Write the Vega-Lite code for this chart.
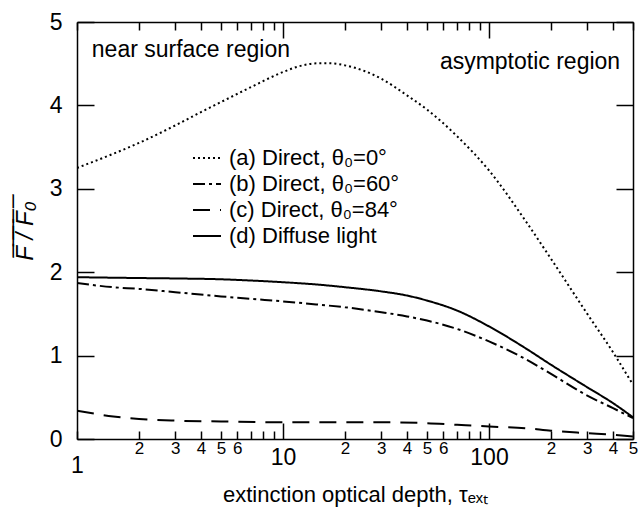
{
  "$schema": "https://vega.github.io/schema/vega-lite/v6.json",
  "width": 556,
  "height": 417,
  "autosize": {"type": "none"},
  "padding": {"left": 77, "top": 22, "right": 5, "bottom": 76},
  "background": "white",
  "config": {
    "view": {"stroke": null},
    "font": "Liberation Sans",
    "axis": {"grid": false, "domainColor": "black", "domainWidth": 1.5, "tickColor": "black", "tickWidth": 1.5, "labelColor": "black", "titleColor": "black", "titleFontWeight": "normal", "labelOverlap": false, "labelFlush": false, "labelBound": false}
  },
  "datasets": {
    "curves": [
      {"tau": 1, "flux": 3.25, "series": "(a) Direct, θ₀=0°"},
      {"tau": 1.5, "flux": 3.42, "series": "(a) Direct, θ₀=0°"},
      {"tau": 2, "flux": 3.55, "series": "(a) Direct, θ₀=0°"},
      {"tau": 3, "flux": 3.76, "series": "(a) Direct, θ₀=0°"},
      {"tau": 4, "flux": 3.92, "series": "(a) Direct, θ₀=0°"},
      {"tau": 5, "flux": 4.04, "series": "(a) Direct, θ₀=0°"},
      {"tau": 7, "flux": 4.22, "series": "(a) Direct, θ₀=0°"},
      {"tau": 10, "flux": 4.40, "series": "(a) Direct, θ₀=0°"},
      {"tau": 12, "flux": 4.47, "series": "(a) Direct, θ₀=0°"},
      {"tau": 15, "flux": 4.505, "series": "(a) Direct, θ₀=0°"},
      {"tau": 17, "flux": 4.505, "series": "(a) Direct, θ₀=0°"},
      {"tau": 20, "flux": 4.48, "series": "(a) Direct, θ₀=0°"},
      {"tau": 25, "flux": 4.41, "series": "(a) Direct, θ₀=0°"},
      {"tau": 30, "flux": 4.32, "series": "(a) Direct, θ₀=0°"},
      {"tau": 40, "flux": 4.12, "series": "(a) Direct, θ₀=0°"},
      {"tau": 50, "flux": 3.95, "series": "(a) Direct, θ₀=0°"},
      {"tau": 70, "flux": 3.63, "series": "(a) Direct, θ₀=0°"},
      {"tau": 100, "flux": 3.22, "series": "(a) Direct, θ₀=0°"},
      {"tau": 150, "flux": 2.62, "series": "(a) Direct, θ₀=0°"},
      {"tau": 200, "flux": 2.16, "series": "(a) Direct, θ₀=0°"},
      {"tau": 300, "flux": 1.5, "series": "(a) Direct, θ₀=0°"},
      {"tau": 400, "flux": 1.04, "series": "(a) Direct, θ₀=0°"},
      {"tau": 500, "flux": 0.65, "series": "(a) Direct, θ₀=0°"},

      {"tau": 1, "flux": 1.87, "series": "(b) Direct, θ₀=60°"},
      {"tau": 1.5, "flux": 1.82, "series": "(b) Direct, θ₀=60°"},
      {"tau": 2, "flux": 1.80, "series": "(b) Direct, θ₀=60°"},
      {"tau": 3, "flux": 1.76, "series": "(b) Direct, θ₀=60°"},
      {"tau": 5, "flux": 1.71, "series": "(b) Direct, θ₀=60°"},
      {"tau": 7, "flux": 1.68, "series": "(b) Direct, θ₀=60°"},
      {"tau": 10, "flux": 1.65, "series": "(b) Direct, θ₀=60°"},
      {"tau": 15, "flux": 1.61, "series": "(b) Direct, θ₀=60°"},
      {"tau": 20, "flux": 1.58, "series": "(b) Direct, θ₀=60°"},
      {"tau": 30, "flux": 1.52, "series": "(b) Direct, θ₀=60°"},
      {"tau": 40, "flux": 1.47, "series": "(b) Direct, θ₀=60°"},
      {"tau": 50, "flux": 1.42, "series": "(b) Direct, θ₀=60°"},
      {"tau": 70, "flux": 1.32, "series": "(b) Direct, θ₀=60°"},
      {"tau": 100, "flux": 1.17, "series": "(b) Direct, θ₀=60°"},
      {"tau": 150, "flux": 0.96, "series": "(b) Direct, θ₀=60°"},
      {"tau": 200, "flux": 0.78, "series": "(b) Direct, θ₀=60°"},
      {"tau": 300, "flux": 0.52, "series": "(b) Direct, θ₀=60°"},
      {"tau": 400, "flux": 0.37, "series": "(b) Direct, θ₀=60°"},
      {"tau": 500, "flux": 0.25, "series": "(b) Direct, θ₀=60°"},

      {"tau": 1, "flux": 0.34, "series": "(c) Direct, θ₀=84°"},
      {"tau": 1.5, "flux": 0.27, "series": "(c) Direct, θ₀=84°"},
      {"tau": 2, "flux": 0.24, "series": "(c) Direct, θ₀=84°"},
      {"tau": 3, "flux": 0.22, "series": "(c) Direct, θ₀=84°"},
      {"tau": 5, "flux": 0.21, "series": "(c) Direct, θ₀=84°"},
      {"tau": 10, "flux": 0.2, "series": "(c) Direct, θ₀=84°"},
      {"tau": 20, "flux": 0.2, "series": "(c) Direct, θ₀=84°"},
      {"tau": 30, "flux": 0.2, "series": "(c) Direct, θ₀=84°"},
      {"tau": 50, "flux": 0.19, "series": "(c) Direct, θ₀=84°"},
      {"tau": 70, "flux": 0.17, "series": "(c) Direct, θ₀=84°"},
      {"tau": 100, "flux": 0.15, "series": "(c) Direct, θ₀=84°"},
      {"tau": 150, "flux": 0.13, "series": "(c) Direct, θ₀=84°"},
      {"tau": 200, "flux": 0.1, "series": "(c) Direct, θ₀=84°"},
      {"tau": 300, "flux": 0.07, "series": "(c) Direct, θ₀=84°"},
      {"tau": 400, "flux": 0.05, "series": "(c) Direct, θ₀=84°"},
      {"tau": 500, "flux": 0.03, "series": "(c) Direct, θ₀=84°"},

      {"tau": 1, "flux": 1.94, "series": "(d) Diffuse light"},
      {"tau": 2, "flux": 1.93, "series": "(d) Diffuse light"},
      {"tau": 3, "flux": 1.925, "series": "(d) Diffuse light"},
      {"tau": 5, "flux": 1.915, "series": "(d) Diffuse light"},
      {"tau": 7, "flux": 1.90, "series": "(d) Diffuse light"},
      {"tau": 10, "flux": 1.88, "series": "(d) Diffuse light"},
      {"tau": 15, "flux": 1.85, "series": "(d) Diffuse light"},
      {"tau": 20, "flux": 1.82, "series": "(d) Diffuse light"},
      {"tau": 30, "flux": 1.77, "series": "(d) Diffuse light"},
      {"tau": 40, "flux": 1.72, "series": "(d) Diffuse light"},
      {"tau": 50, "flux": 1.66, "series": "(d) Diffuse light"},
      {"tau": 70, "flux": 1.54, "series": "(d) Diffuse light"},
      {"tau": 100, "flux": 1.35, "series": "(d) Diffuse light"},
      {"tau": 150, "flux": 1.09, "series": "(d) Diffuse light"},
      {"tau": 200, "flux": 0.89, "series": "(d) Diffuse light"},
      {"tau": 300, "flux": 0.62, "series": "(d) Diffuse light"},
      {"tau": 400, "flux": 0.43, "series": "(d) Diffuse light"},
      {"tau": 500, "flux": 0.26, "series": "(d) Diffuse light"}
    ],
    "notesLeft": [{"tau": 1.18, "flux": 4.66, "label": "near surface region"}],
    "notesRight": [{"tau": 433, "flux": 4.52, "label": "asymptotic region"}]
  },
  "layer": [
    {
      "data": {"name": "curves"},
      "mark": {"type": "line", "color": "black", "strokeWidth": 2, "strokeCap": "butt", "interpolate": "monotone", "clip": true},
      "encoding": {
        "x": {
          "field": "tau", "type": "quantitative",
          "scale": {"type": "log", "domain": [1, 500], "nice": false},
          "axis": {
            "orient": "bottom",
            "values": [1, 2, 3, 4, 5, 6, 7, 8, 9, 10, 20, 30, 40, 50, 60, 70, 80, 90, 100, 200, 300, 400, 500],
            "format": "d",
            "labelExpr": "(datum.value == 1 || datum.value == 10 || datum.value == 100) ? datum.label : (indexof([2,3,4,5,6,20,30,40,50,60,200,300,400,500], datum.value) >= 0 ? substring(datum.label, 0, 1) : '')",
            "labelFontSize": {"condition": {"test": "datum.value == 1 || datum.value == 10 || datum.value == 100", "value": 23}, "value": 17},
            "tickSize": {"condition": {"test": "datum.value == 10 || datum.value == 100", "value": -16}, "value": -8},
            "labelPadding": {"condition": {"test": "datum.value == 1 || datum.value == 10 || datum.value == 100", "value": 23}, "value": 9},
            "title": "extinction optical depth, τₑₓₜ",
            "titleFontSize": 22,
            "titlePadding": 7
          }
        },
        "y": {
          "field": "flux", "type": "quantitative",
          "scale": {"domain": [0, 5], "nice": false},
          "axis": {
            "orient": "left",
            "values": [0, 1, 2, 3, 4, 5],
            "tickSize": -17,
            "labelPadding": 32,
            "labelFontSize": 23,
            "title": "F̅ ̅/̅ ̅F̅₀̅",
            "titleFontSize": 24,
            "titleFontStyle": "italic",
            "titlePadding": 12
          }
        },
        "strokeDash": {
          "field": "series", "type": "nominal",
          "scale": {"range": [[2, 3], [12, 4, 3, 4], [17, 10], [1, 0]]},
          "legend": {
            "orient": "none", "legendX": 115, "legendY": 121,
            "title": null, "padding": 0,
            "labelFontSize": 22, "labelColor": "black", "labelLimit": 400,
            "symbolType": "stroke", "symbolSize": 784, "symbolStrokeWidth": 2, "symbolStrokeColor": "black",
            "labelOffset": 7, "rowPadding": -3.5
          }
        }
      }
    },
    {
      "data": {"name": "notesLeft"},
      "mark": {"type": "text", "align": "left", "baseline": "middle", "fontSize": 23, "color": "black"},
      "encoding": {
        "x": {
          "field": "tau", "type": "quantitative",
          "axis": {
            "orient": "top",
            "values": [1, 2, 3, 4, 5, 6, 7, 8, 9, 10, 20, 30, 40, 50, 60, 70, 80, 90, 100, 200, 300, 400, 500],
            "labels": false,
            "tickSize": {"condition": {"test": "datum.value == 10 || datum.value == 100", "value": -16}, "value": -8},
            "title": null
          }
        },
        "y": {
          "field": "flux", "type": "quantitative",
          "axis": {"orient": "right", "values": [0, 1, 2, 3, 4, 5], "labels": false, "tickSize": -17, "title": null}
        },
        "text": {"field": "label"}
      }
    },
    {
      "data": {"name": "notesRight"},
      "mark": {"type": "text", "align": "right", "baseline": "middle", "fontSize": 23, "color": "black"},
      "encoding": {
        "x": {"field": "tau", "type": "quantitative", "axis": null},
        "y": {"field": "flux", "type": "quantitative", "axis": null},
        "text": {"field": "label"}
      }
    }
  ],
  "resolve": {"axis": {"x": "independent", "y": "independent"}}
}
